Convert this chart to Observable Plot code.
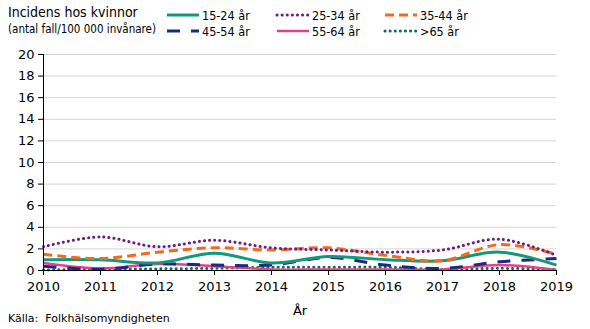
<!DOCTYPE html>
<html><head><meta charset="utf-8">
<script src="https://cdn.jsdelivr.net/npm/d3@7"></script>
<script src="https://cdn.jsdelivr.net/npm/@observablehq/plot@0.6"></script>
<style>
body{margin:0;background:#fff;font-family:"DejaVu Sans",Verdana,sans-serif;}
#wrap{position:relative;width:590px;height:329px;overflow:hidden;}
#head{position:absolute;left:0;top:0;width:590px;height:44px;font-family:"DejaVu Sans Condensed","DejaVu Sans",sans-serif;}
.t1{position:absolute;left:8px;top:4px;font-size:14px;color:#000;}
.t2{position:absolute;left:8px;top:22px;font-size:11.5px;color:#000;}
.leg{position:absolute;font-size:12.5px;display:flex;align-items:center;height:14px;}
.leg svg{margin-right:1px;}
#chart{position:absolute;left:0;top:44px;}
#cap{position:absolute;left:8px;top:312px;font-size:11px;white-space:pre;}
</style></head><body>
<div id="wrap">
<div id="head"><div class="t1">Incidens hos kvinnor</div><div class="t2">(antal fall/100 000 invånare)</div></div>
<div id="chart"></div>
<div id="cap">Källa:  Folkhälsomyndigheten</div>
</div>
<script>
const years = [2010,2011,2012,2013,2014,2015,2016,2017,2018,2019];
const seriesNames = ["15-24 år","25-34 år","35-44 år","45-54 år","55-64 år",">65 år"];
const v15_24 = [1.0,1.0,0.7,1.6,0.7,1.3,1.0,0.9,1.7,0.5];
const v25_34 = [2.2,3.1,2.2,2.8,2.1,1.9,1.7,1.9,2.9,1.4];
const v35_44 = [1.5,1.1,1.7,2.1,1.9,2.1,1.4,0.9,2.4,1.5];
const v45_54 = [0.4,0.1,0.6,0.5,0.5,1.2,0.5,0.2,0.8,1.1];
const v55_64 = [0.7,0.2,0.6,0.4,0.1,0.1,0.1,0.1,0.5,0.05];
const v65 = [0.05,0.1,0.15,0.2,0.3,0.3,0.3,0.1,0.2,0.1];
const yTicks = [0,2,4,6,8,10,12,14,16,18,20];

const styles = {
  "15-24 år":{stroke:"#13997a",dash:null,cap:"butt",w:3},
  "25-34 år":{stroke:"#6b1a86",dash:"0.1,5",cap:"round",w:3},
  "35-44 år":{stroke:"#f26a1b",dash:"9,5",cap:"butt",w:3},
  "45-54 år":{stroke:"#1a2a82",dash:"13,11",cap:"butt",w:3},
  "55-64 år":{stroke:"#e83e8c",dash:null,cap:"butt",w:2.5},
  ">65 år":{stroke:"#0b6b5e",dash:"0.1,5",cap:"round",w:3}
};
const vals = [v15_24,v25_34,v35_44,v45_54,v55_64,v65];
const drawOrder = [">65 år","55-64 år","45-54 år","15-24 år","35-44 år","25-34 år"];

const marks = [
  Plot.ruleY(yTicks.filter(d=>d>0),{stroke:"#d4d4d4",strokeWidth:1}),
];
for (const name of drawOrder) {
  const i = seriesNames.indexOf(name);
  const s = styles[name];
  const data = years.map((y,j)=>({year:y,value:vals[i][j]}));
  marks.push(Plot.line(data,{x:"year",y:"value",stroke:s.stroke,strokeWidth:s.w,strokeDasharray:s.dash,strokeLinecap:s.cap,curve:"catmull-rom"}));
}
marks.push(Plot.ruleX([2010],{stroke:"#000",strokeWidth:1}));
marks.push(Plot.ruleY([0],{stroke:"#000",strokeWidth:1}));
marks.push(Plot.axisY({ticks:yTicks,tickSize:5,tickPadding:4,label:null,fontSize:13}));
marks.push(Plot.axisX({ticks:years,tickFormat:d=>String(d),tickSize:5,tickPadding:6,label:null,fontSize:13}));

const chart = Plot.plot({
  width:590,height:278,
  marginLeft:43,marginRight:34,marginTop:10,marginBottom:52,
  style:{fontFamily:"DejaVu Sans, Verdana, sans-serif",fontSize:"13px",color:"#000",background:"#fff"},
  x:{domain:[2010,2019],label:null},
  y:{domain:[0,20],label:null},
  marks:[...marks,
    Plot.text(["År"],{frameAnchor:"bottom",dy:44,text:d=>d,fontSize:13,fill:"#000"})
  ]
});
document.getElementById("chart").appendChild(chart);

// legend
const legPos = [[165,8],[275,8],[383,8],[165,24],[275,24],[383,24]];
const head = document.getElementById("head");
seriesNames.forEach((name,i)=>{
  const s = styles[name];
  const div = document.createElement("div");
  div.className="leg";
  div.style.left = legPos[i][0]+"px";
  div.style.top = legPos[i][1]+"px";
  const ns="http://www.w3.org/2000/svg";
  const sv=document.createElementNS(ns,"svg");
  sv.setAttribute("width",36);sv.setAttribute("height",8);
  const ln=document.createElementNS(ns,"line");
  ln.setAttribute("x1",2);ln.setAttribute("x2",34);ln.setAttribute("y1",4);ln.setAttribute("y2",4);
  ln.setAttribute("stroke",s.stroke);ln.setAttribute("stroke-width",s.w);
  if(s.dash) ln.setAttribute("stroke-dasharray",s.dash);
  ln.setAttribute("stroke-linecap",s.cap);
  sv.appendChild(ln);
  div.appendChild(sv);
  const sp=document.createElement("span");sp.textContent=name;div.appendChild(sp);
  head.appendChild(div);
});
</script>
</body></html>
